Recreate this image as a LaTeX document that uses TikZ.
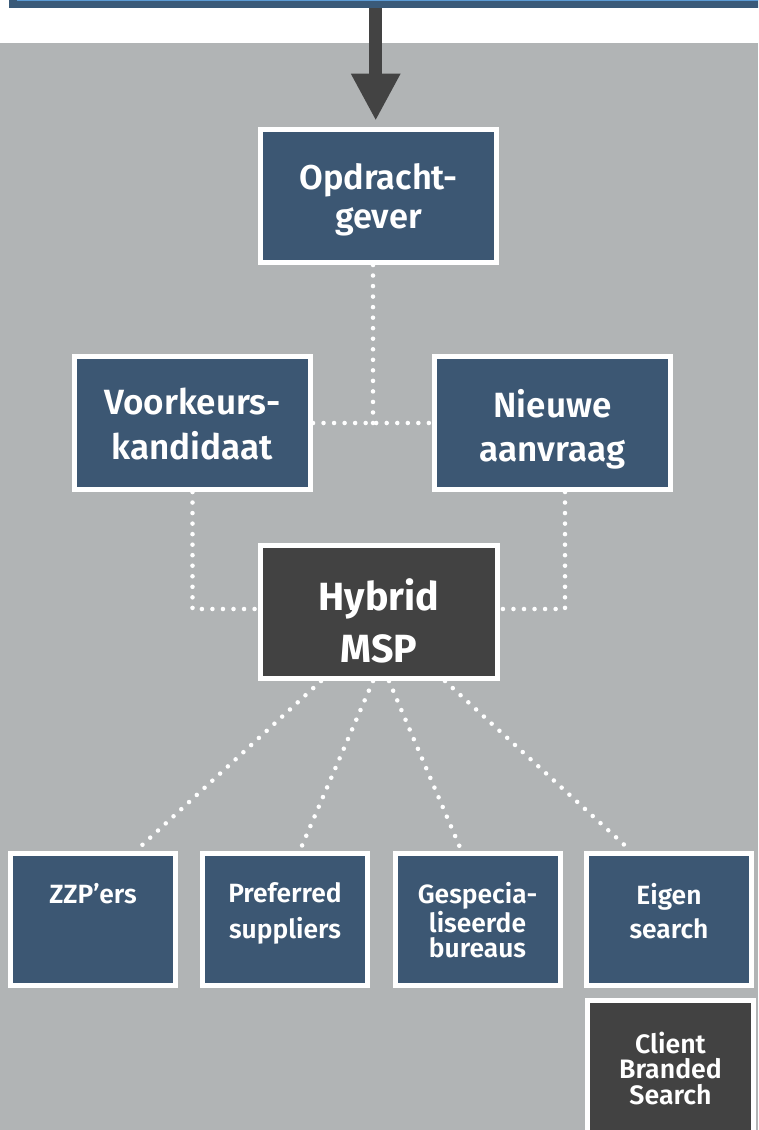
\documentclass[tikz,border=0pt]{standalone}
\usepackage{fontspec}
\setmainfont{Fira Sans}
\newfontfamily\semib{Fira Sans SemiBold}
\usetikzlibrary{arrows.meta}
\definecolor{bggrey}{HTML}{B1B4B5}
\definecolor{boxblue}{HTML}{3C5773}
\definecolor{boxdark}{HTML}{424242}
\definecolor{arrowc}{HTML}{434343}
\definecolor{barblue}{HTML}{3A5A79}
\definecolor{barlight}{HTML}{5B9BD5}
\tikzset{
  box/.style={rectangle, draw=white, line width=3.75pt, fill=boxblue, inner sep=0pt},
  bigbox/.style={box, minimum width=177pt, minimum height=99.75pt},
  smallbox/.style={box, minimum width=123.75pt, minimum height=99pt},
  txt/.style={text=white, align=center, inner sep=0pt, anchor=north},
  dots/.style={draw=white, line width=3.4pt, dash pattern=on 0pt off 7.9pt, line cap=round},
}
\begin{document}
\begin{tikzpicture}[x=0.75pt, y=-0.75pt]
\useasboundingbox (0,0) rectangle (758,1130);
\clip (0,0) rectangle (758,1130);
\fill[white] (0,0) rectangle (758,1130);
\fill[bggrey] (0,43.5) rectangle (758,1130);
% top bar
\node[fill=barblue, minimum width=578.25pt, minimum height=22.5pt, anchor=south west, inner sep=0pt] (bar) at (9,8.5) {};
\draw[barlight, line width=1.1pt] (17,0.4) -- (770,0.4);

% boxes
\node[bigbox] (opd) at (378.5,196) {};
\node[bigbox] (voork) at (192.5,423) {};
\node[bigbox] (nieuwe) at (552.5,423) {};
\node[bigbox, fill=boxdark, minimum width=177.75pt] (hyb) at (379,612) {};
\node[smallbox] (b1) at (93,919.5) {};
\node[smallbox] (b2) at (285,919.5) {};
\node[smallbox] (b3) at (477.5,919.5) {};
\node[smallbox] (b4) at (669,919.5) {};
\node[smallbox, fill=boxdark, minimum width=125pt] (cbs) at (670.5,1066.5) {};

% texts
\node[txt, font=\semib\fontsize{25.8pt}{28.8pt}\selectfont] (topd) at ([yshift=-27.5pt]opd.north) {Opdracht-\\gever};
\node[txt, font=\semib\fontsize{26.3pt}{33.2pt}\selectfont] (tvoork) at ([yshift=-25.5pt]voork.north) {Voorkeurs-\\kandidaat};
\node[txt, font=\semib\fontsize{26.3pt}{33.2pt}\selectfont] (tnieuwe) at ([yshift=-26.25pt]nieuwe.north) {Nieuwe\\aanvraag};
\node[txt, font=\fontsize{29.5pt}{39pt}\selectfont\bfseries] (thyb) at ([yshift=-26.25pt]hyb.north) {Hybrid\\MSP};
\node[txt, font=\semib\fontsize{19.8pt}{26.8pt}\selectfont] (tb1) at ([yshift=-24pt]b1.north) {ZZP’ers};
\node[txt, font=\semib\fontsize{19.8pt}{26.8pt}\selectfont] (tb2) at ([yshift=-23.6pt]b2.north) {Preferred\\suppliers};
\node[txt, font=\semib\fontsize{19.8pt}{18.8pt}\selectfont] (tb3) at ([yshift=-23.6pt]b3.north) {Gespecia-\\liseerde\\bureaus};
\node[txt, font=\semib\fontsize{19.8pt}{25.5pt}\selectfont] (tb4) at ([yshift=-24pt]b4.north) {Eigen\\search};
\node[txt, font=\semib\fontsize{20pt}{19.2pt}\selectfont] (tcbs) at ([yshift=-25pt]cbs.north) {Client\\Branded\\Search};

% arrow
\coordinate (ax) at (375.7,0);
\draw[arrowc, line width=10pt, shorten >=4.7pt, -{Triangle[length=35.25pt, width=34.5pt]}] (bar.south -| ax) -- (opd.north -| ax);

% dotted connectors
\coordinate (jn) at (373,423);
\draw[dots] (opd.south -| jn) -- (jn);
\draw[dots] (voork.east) -- (nieuwe.west);
\coordinate (cl) at (192.5,609);
\coordinate (cr) at (565,609);
\draw[dots] (voork.south) -- (cl) -- (cl -| hyb.west);
\draw[dots] (nieuwe.south -| cr) -- (cr) -- (cr -| hyb.east);
\draw[dots] ([xshift=-43.5pt]hyb.south) -- ([xshift=32pt]b1.north);
\draw[dots] ([xshift=-4.5pt]hyb.south) -- ([xshift=11pt]b2.north);
\draw[dots] ([xshift=7.5pt]hyb.south) -- ([xshift=-12pt]b3.north);
\draw[dots] ([xshift=49.5pt]hyb.south) -- ([xshift=-28.5pt]b4.north);
\end{tikzpicture}
\end{document}
